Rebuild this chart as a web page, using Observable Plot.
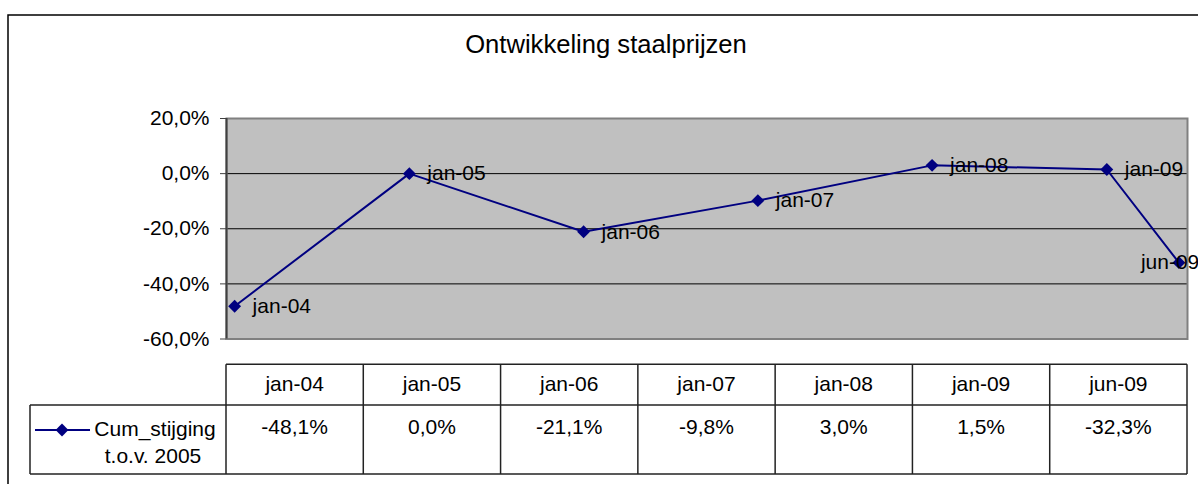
<!DOCTYPE html>
<html>
<head>
<meta charset="utf-8">
<script src="https://cdn.jsdelivr.net/npm/d3@7"></script>
<script src="https://cdn.jsdelivr.net/npm/@observablehq/plot@0.6"></script>
<style>
  html, body { margin: 0; padding: 0; background: white; }
  #chart { width: 1198px; height: 484px; overflow: hidden; }
</style>
</head>
<body>
<div id="chart"></div>
<script>
// ---- data ----
const title = "Ontwikkeling staalprijzen";
const dates = ["2004-01-01", "2005-01-01", "2006-01-01", "2007-01-01", "2008-01-01", "2009-01-01", "2009-06-01"];
const labels = ["jan-04", "jan-05", "jan-06", "jan-07", "jan-08", "jan-09", "jun-09"];
const values = [-0.481, 0.000, -0.211, -0.098, 0.030, 0.015, -0.323];
const yTicks = [0.2, 0, -0.2, -0.4, -0.6];
const seriesName = ["Cum_stijging", "t.o.v. 2005"];
const xDomain = ["2003-12-15", "2009-06-19"];

// ---- helpers ----
const pct = v => (v * 100).toFixed(1).replace(".", ",") + "%";
const data = dates.map((d, i) => ({ date: new Date(d), label: labels[i], value: values[i] }));
const last = data.length - 1;
const FONT = "'Liberation Sans', Arial, sans-serif";
const navy = "#000080";

const chart = Plot.plot({
  width: 1198,
  height: 484,
  marginLeft: 226,
  marginRight: 11,
  marginTop: 118,
  marginBottom: 145.5,
  style: { fontFamily: FONT, fontSize: "21px", background: "white", color: "black", overflow: "visible" },
  x: { type: "utc", domain: xDomain.map(d => new Date(d)), axis: null },
  y: { domain: [yTicks[yTicks.length - 1], yTicks[0]], axis: null },
  marks: [
    Plot.frame({ fill: "#c0c0c0" }),
    Plot.ruleY(yTicks.slice(1, -1), { stroke: "black", strokeWidth: 1 }),
    Plot.frame({ stroke: "#808080", strokeWidth: 2 }),
    Plot.ruleX([new Date(xDomain[0])], { stroke: "#404040", strokeWidth: 2 }),
    Plot.axisY({ ticks: yTicks, tickFormat: pct, tickSize: 6, tickPadding: 11, fontSize: 21, stroke: "#404040", label: null }),
    Plot.line(data, { x: "date", y: "value", stroke: navy, strokeWidth: 2 }),
    Plot.dot(data, { x: "date", y: "value", symbol: "diamond2", r: 5.8, fill: navy, stroke: "none" }),
    Plot.text(data.slice(0, last), { x: "date", y: "value", text: "label", textAnchor: "start", dx: 18, fontSize: 21, fill: "black" }),
    Plot.text(data.slice(last), { x: "date", y: "value", text: "label", textAnchor: "start", dx: -38, fontSize: 21, fill: "black" })
  ]
});

document.getElementById("chart").appendChild(chart);

// ---- chart border, title, data table ----
const svg = d3.select(chart);
const xr = chart.scale("x").range;
const band = d3.scaleBand().domain(labels).range(xr);

svg.append("path")
  .attr("d", "M8,484V15H1198")
  .attr("fill", "none").attr("stroke", "black").attr("stroke-width", 1.5);

svg.append("text")
  .attr("x", 606).attr("y", 53)
  .attr("text-anchor", "middle")
  .attr("font-family", FONT).attr("font-size", 25.6).attr("fill", "black")
  .text(title);

const tTop = 364.3, tMid = 405, tBot = 474, legLeft = 30;
const g = svg.append("g").attr("fill", "none").attr("stroke", "#222").attr("stroke-width", 1.5);
g.append("path").attr("d", `M${xr[0]},${tTop}H${xr[1]}`);
g.append("path").attr("d", `M${legLeft},${tMid}H${xr[1]}`);
g.append("path").attr("d", `M${legLeft},${tBot}H${xr[1]}`);
g.append("path").attr("d", `M${legLeft},${tMid}V${tBot}`);
const bounds = labels.map(l => band(l)).concat([xr[1]]);
bounds.forEach(b => g.append("path").attr("d", `M${b},${tTop}V${tBot}`));

const tg = svg.append("g").attr("font-family", FONT).attr("font-size", 21).attr("fill", "black").attr("text-anchor", "middle");
labels.forEach((l, i) => {
  const cx = band(l) + band.bandwidth() / 2;
  tg.append("text").attr("x", cx).attr("y", 391).text(l);
  tg.append("text").attr("x", cx).attr("y", 433.5).text(pct(values[i]));
});
tg.append("text").attr("x", 155).attr("y", 436).text(seriesName[0]);
tg.append("text").attr("x", 153).attr("y", 463).text(seriesName[1]);

// legend key
svg.append("path").attr("d", "M35,430H90").attr("stroke", navy).attr("stroke-width", 2);
svg.append("path").attr("d", d3.symbol(d3.symbolDiamond2, Math.PI * 5.8 * 5.8)()).attr("transform", "translate(62,430)").attr("fill", navy);
</script>
</body>
</html>
